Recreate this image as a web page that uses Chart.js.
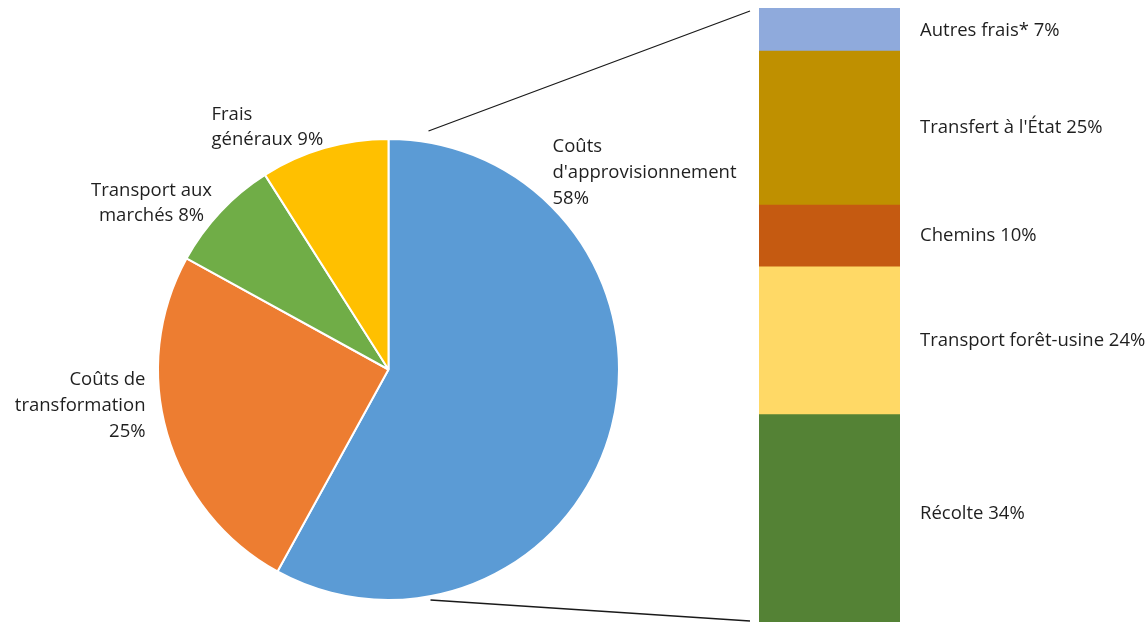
<!DOCTYPE html>
<html>
<head>
<meta charset="utf-8">
<script src="https://cdn.jsdelivr.net/npm/chart.js@4.4.0/dist/chart.umd.min.js"></script>
<style>
  html, body { margin: 0; padding: 0; background: #fff; overflow: hidden; width: 1148px; height: 622px; }
  #wrap { position: relative; width: 1148px; height: 622px; overflow: hidden; }
  canvas { position: absolute; left: 0; top: 0; }
</style>
</head>
<body>
<div id="wrap">
  <canvas id="pie" width="1148" height="622"></canvas>
  <canvas id="bar" width="1148" height="640"></canvas>
</div>
<script>
// ---- Data ----
const pieCategories = ["Coûts d'approvisionnement", "Coûts de transformation", "Transport aux marchés", "Frais généraux"];
const pieValues = [58, 25, 8, 9];
const pieColors = ['#5B9BD5', '#ED7D31', '#70AD47', '#FFC000'];
// label lines (text before the percentage is split as in the original)
const pieLabelLines = [
  ["Coûts", "d'approvisionnement", ""],
  ["Coûts de", "transformation", ""],
  ["Transport aux", "marchés"],
  ["Frais", "généraux"]
];

const barCategories = ["Récolte", "Transport forêt-usine", "Chemins", "Transfert à l'État", "Autres frais*"];
const barValues = [34, 24, 10, 25, 7];
const barColors = ['#548235', '#FFD966', '#C55A11', '#BF9000', '#8FAADC'];

const FONT = '18.5px "Open Sans", "DejaVu Sans", sans-serif';
const TEXT = '#1f1f1f';

function lineWithValue(lines, v) {
  const out = lines.slice();
  const last = out.length - 1;
  out[last] = (out[last] ? out[last] + ' ' : '') + v + '%';
  return out;
}

// ---- Pie ----
const pieLabelPlugin = {
  id: 'pieLabels',
  afterDatasetsDraw(chart) {
    const ctx = chart.ctx;
    const arc = chart.getDatasetMeta(0).data[0];
    const cx = arc.x, cy = arc.y;
    // placement: [anchorX offset, first line Y offset, align, line height]
    const place = [
      [164, -223, 'left', 26],
      [-243, 10, 'right', 26],
      [-237, -179, 'center', 25],
      [-177, -255, 'left', 25]
    ];
    ctx.save();
    ctx.font = FONT;
    ctx.fillStyle = TEXT;
    ctx.textBaseline = 'middle';
    pieValues.forEach((v, i) => {
      const lines = lineWithValue(pieLabelLines[i], v);
      const [dx, dy, align, lh] = place[i];
      ctx.textAlign = align;
      lines.forEach((t, k) => ctx.fillText(t, cx + dx, cy + dy + k * lh));
    });
    ctx.restore();
  }
};

const pieChart = new Chart(document.getElementById('pie'), {
  type: 'pie',
  data: {
    labels: pieCategories,
    datasets: [{
      data: pieValues,
      backgroundColor: pieColors,
      borderColor: '#ffffff',
      borderWidth: 2,
      hoverOffset: 0,
      offset: 0
    }]
  },
  options: {
    responsive: false,
    animation: false,
    events: [],
    rotation: 0,
    layout: { padding: { left: 157, right: 528, top: 138, bottom: 21 } },
    plugins: { legend: { display: false }, tooltip: { enabled: false } }
  },
  plugins: [pieLabelPlugin]
});

// ---- Stacked bar ----
const barLabelPlugin = {
  id: 'barLabels',
  afterDatasetsDraw(chart) {
    const ctx = chart.ctx;
    ctx.save();
    ctx.font = FONT;
    ctx.fillStyle = TEXT;
    ctx.textBaseline = 'middle';
    ctx.textAlign = 'left';
    let barRight = 0, barLeft = 0, barTop = Infinity;
    const visibleBottom = 622;
    chart.data.datasets.forEach((ds, i) => {
      const el = chart.getDatasetMeta(i).data[0];
      const r = el.getProps(['x', 'y', 'base', 'width'], true);
      barLeft = r.x - r.width / 2;
      barRight = r.x + r.width / 2;
      barTop = Math.min(barTop, r.y);
      const yc = (Math.max(r.y, 10) + Math.min(r.base, visibleBottom - 10)) / 2;
      ctx.fillText(barCategories[i] + ' ' + barValues[i] + '%', barRight + 20, yc);
    });
    // connector lines from the pie to the bar
    const arc = pieChart.getDatasetMeta(0).data[0];
    const cx = arc.x, cy = arc.y, R = arc.outerRadius;
    ctx.strokeStyle = '#1a1a1a';
    ctx.lineWidth = 1.3;
    ctx.beginPath();
    ctx.moveTo(cx + 40, cy - R - 8);
    ctx.lineTo(barLeft - 9, barTop + 3);
    ctx.moveTo(cx + 42, cy + R);
    ctx.lineTo(barLeft - 9, 621);
    ctx.stroke();
    ctx.restore();
  }
};

new Chart(document.getElementById('bar'), {
  type: 'bar',
  data: {
    labels: [''],
    datasets: barCategories.map((c, i) => ({
      label: c,
      data: [barValues[i]],
      backgroundColor: barColors[i],
      borderWidth: 0,
      categoryPercentage: 1,
      barPercentage: 1
    }))
  },
  options: {
    responsive: false,
    animation: false,
    events: [],
    layout: { padding: { left: 759, right: 248, top: 8, bottom: 16 } },
    scales: {
      x: { stacked: true, display: false },
      y: { stacked: true, display: false, min: 0, max: 100 }
    },
    plugins: { legend: { display: false }, tooltip: { enabled: false } }
  },
  plugins: [barLabelPlugin]
});
</script>
</body>
</html>
